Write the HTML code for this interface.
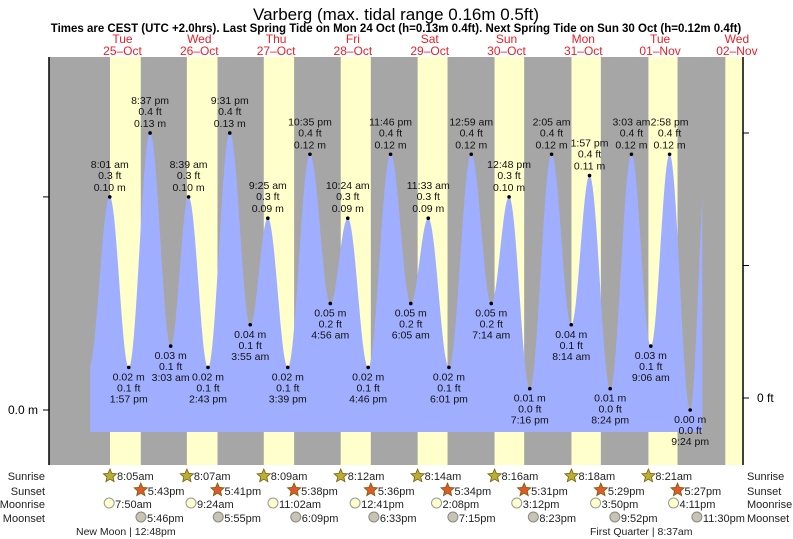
<!DOCTYPE html>
<html><head><meta charset="utf-8"><style>
body{margin:0;background:#fff;}
svg{display:block;font-family:"Liberation Sans",sans-serif;}
</style></head><body>
<svg id="c" width="793" height="539" viewBox="0 0 793 539">
<text x="396" y="20" font-size="17" text-anchor="middle" fill="#000">Varberg (max. tidal range 0.16m 0.5ft)</text>
<text x="396" y="32" font-size="11.5" font-weight="bold" text-anchor="middle" fill="#000">Times are CEST (UTC +2.0hrs). Last Spring Tide on Mon 24 Oct (h=0.13m 0.4ft). Next Spring Tide on Sun 30 Oct (h=0.12m 0.4ft)</text>
<g id="bands"></g><g id="tide"></g><g id="labels"></g><g id="axes"></g><g id="bottom"></g>
</svg>
<script>
const dayNames=["Tue","Wed","Thu","Fri","Sat","Sun","Mon","Tue","Wed"];
const dayDates=["25–Oct","26–Oct","27–Oct","28–Oct","29–Oct","30–Oct","31–Oct","01–Nov","02–Nov"];
const sunrise=["8:05","8:07","8:09","8:12","8:14","8:16","8:18","8:21","8:23"];
const sunset=["17:43","17:41","17:38","17:36","17:34","17:31","17:29","17:27"];
const moonrise=["7:50","9:24","11:02","12:41","14:08","15:12","15:50","16:11"];
const moonset=["17:46","17:55","18:09","18:33","19:15","20:23","21:52","23:30"];
const tideDay=[0,0,0,0,1,1,1,1,2,2,2,2,3,3,3,3,4,4,4,5,5,5,5,6,6,6,6,7,7,7,7];
const tideTime=["1:30","8:01","13:57","20:37","3:03","8:39","14:43","21:31","3:55","9:25","15:39","22:35","4:56","10:24","16:46","23:46","6:05","11:33","18:01","0:59","7:14","12:48","19:16","2:05","8:14","13:57","20:24","3:03","9:06","14:58","21:24"];
const tideM=[0.02,0.10,0.02,0.13,0.03,0.10,0.02,0.13,0.04,0.09,0.02,0.12,0.05,0.09,0.02,0.12,0.05,0.09,0.02,0.12,0.05,0.10,0.01,0.12,0.04,0.11,0.01,0.12,0.03,0.12,0.00];
const tideFt=["0.1","0.3","0.1","0.4","0.1","0.3","0.1","0.4","0.1","0.3","0.1","0.4","0.2","0.3","0.1","0.4","0.2","0.3","0.1","0.4","0.2","0.3","0.0","0.4","0.1","0.4","0.0","0.4","0.1","0.4","0.0"];
const tideLbl=["","8:01 am","1:57 pm","8:37 pm","3:03 am","8:39 am","2:43 pm","9:31 pm","3:55 am","9:25 am","3:39 pm","10:35 pm","4:56 am","10:24 am","4:46 pm","11:46 pm","6:05 am","11:33 am","6:01 pm","12:59 am","7:14 am","12:48 pm","7:16 pm","2:05 am","8:14 am","1:57 pm","8:24 pm","3:03 am","9:06 am","2:58 pm","9:24 pm"];
const extraTime=[194.6]; const extraM=[0.12];

const NS="http://www.w3.org/2000/svg";
const X0=49,X1=743,Y0=57,Y1=465;
const xT=t=>84.1+3.2*t;
const yM=m=>410-2131*m;
const hrs=s=>{const p=s.split(":");return +p[0]+(+p[1])/60;};
const fmt12=s=>{let h=Math.floor(hrs(s)),mm=s.split(":")[1];let ap=h>=12?"pm":"am";h=h%12;if(h==0)h=12;return h+":"+mm+ap;};
function el(tag,attrs,parent,text){const e=document.createElementNS(NS,tag);for(const k in attrs)e.setAttribute(k,attrs[k]);if(text!==undefined)e.textContent=text;parent.appendChild(e);return e;}
const bands=document.getElementById('bands'),tide=document.getElementById('tide'),labels=document.getElementById('labels'),axes=document.getElementById('axes'),bottom=document.getElementById('bottom');
const bg=el('rect',{x:X0,y:Y0,width:X1-X0,height:Y1-Y0,fill:'#a6a6a6'},bands);


for(let d=0;d<9;d++){
  const s=xT(24*d+hrs(sunrise[d]));
  const e=d<8?xT(24*d+hrs(sunset[d])):X1;
  const r=el('rect',{x:s,y:Y0,width:Math.min(e,X1)-s,height:Y1-Y0,fill:'#ffffcc'},bands);
  
  
  const cx=xT(24*d+12);
  const t1=el('text',{x:cx,y:43,'font-size':12,'text-anchor':'middle',fill:'#e8202a'},labels,dayNames[d]);
  
  
  const t2=el('text',{x:cx,y:55,'font-size':12,'text-anchor':'middle',fill:'#e8202a'},labels,dayDates[d]);
  
  
}
const T=tideTime.map((s,i)=>24*tideDay[i]+hrs(s)).concat(extraTime);
const M=tideM.concat(extraM);
const tStart=1.9,tEnd=193.2;
function hAt(t){for(let i=0;i<T.length-1;i++){if(t>=T[i]&&t<=T[i+1]){const f=(t-T[i])/(T[i+1]-T[i]);return M[i]+(M[i+1]-M[i])*(1-Math.cos(Math.PI*f))/2;}}return M[0];}
let d="M"+xT(tStart)+","+432+" L"+xT(tStart)+","+yM(hAt(tStart));
for(let t=tStart;t<=tEnd;t+=0.1)d+=" L"+xT(t).toFixed(2)+","+yM(hAt(t)).toFixed(2);
d+=" L"+xT(tEnd)+",432 Z";
const area=el('path',{d:d,fill:'#a0aeff'},tide);


for(let i=1;i<tideTime.length;i++){
  const x=xT(T[i]),y=yM(M[i]);const high=M[i]>M[i-1]&&M[i]>M[i+1];
  const dot=el('circle',{cx:x,cy:y,r:1.8,fill:'#000'},tide);
  
  
  const g=el('g',{'font-size':10.5,'text-anchor':'middle',fill:'#111'},labels);
  
  
  if(high){el('text',{x:x,y:y-29},g,tideLbl[i]);el('text',{x:x,y:y-18},g,tideFt[i]+" ft");el('text',{x:x,y:y-6},g,M[i].toFixed(2)+" m");}
  else{el('text',{x:x,y:y+13},g,M[i].toFixed(2)+" m");el('text',{x:x,y:y+24},g,tideFt[i]+" ft");el('text',{x:x,y:y+35},g,tideLbl[i]);}
}
const la=el('line',{x1:X0,y1:Y0,x2:X0,y2:Y1,stroke:'#000','stroke-width':1.5},axes);

const ra=el('line',{x1:X1,y1:Y0,x2:X1,y2:Y1,stroke:'#000','stroke-width':1.5},axes);

[0,0.1].forEach(v=>{el('line',{x1:X0-6,y1:yM(v),x2:X0,y2:yM(v),stroke:'#000'},axes);});
const ml=el('text',{x:38,y:414,'font-size':12,'text-anchor':'end'},axes,"0.0 m");

[398,265.5,133].forEach(y=>{el('line',{x1:X1,y1:y,x2:X1+6,y2:y,stroke:'#000'},axes);});
const fl=el('text',{x:757,y:402,'font-size':12},axes,"0 ft");

const rows=[["Sunrise",480],["Sunset",495],["Moonrise",508],["Moonset",522]];
rows.forEach(r=>{
  const a=el('text',{x:45,y:r[1],'font-size':11,'text-anchor':'end',fill:'#222'},bottom,r[0]);
  
  const b=el('text',{x:747,y:r[1],'font-size':11,fill:'#222'},bottom,r[0]);
  
});
function star(cx,cy,fill){let p=[];for(let k=0;k<10;k++){const a=-Math.PI/2+k*Math.PI/5,r=k%2?3.2:7;p.push((cx+r*Math.cos(a)).toFixed(1)+","+(cy+r*Math.sin(a)).toFixed(1));}return el('polygon',{points:p.join(" "),fill:fill,stroke:'#7a5a10','stroke-width':0.8},bottom);}
for(let d=0;d<8;d++){
  let x=xT(24*d+hrs(sunrise[d]));
  const s1=star(x,476,'#b8b030');
  const t1=el('text',{x:x+7,y:480,'font-size':11,fill:'#222'},bottom,fmt12(sunrise[d]));
  x=xT(24*d+hrs(sunset[d]));
  const s2=star(x,490,'#e05a28');
  const t2=el('text',{x:x+7,y:495,'font-size':11,fill:'#222'},bottom,fmt12(sunset[d]));
  x=xT(24*d+hrs(moonrise[d]));
  const c1=el('circle',{cx:x,cy:503,r:5,fill:'#ffffcc',stroke:'#999'},bottom);
  const t3=el('text',{x:x+6,y:508,'font-size':11,fill:'#222'},bottom,fmt12(moonrise[d]));
  x=xT(24*d+hrs(moonset[d]));
  const c2=el('circle',{cx:x,cy:517,r:5,fill:'#c8c4b0',stroke:'#888'},bottom);
  const t4=el('text',{x:x+6,y:522,'font-size':11,fill:'#222'},bottom,fmt12(moonset[d]));
}
const p1=el('text',{x:76,y:535,'font-size':10.5,fill:'#222'},bottom,"New Moon | 12:48pm");
const p2=el('text',{x:590,y:535,'font-size':10.5,fill:'#222'},bottom,"First Quarter | 8:37am");
</script>
</body></html>
